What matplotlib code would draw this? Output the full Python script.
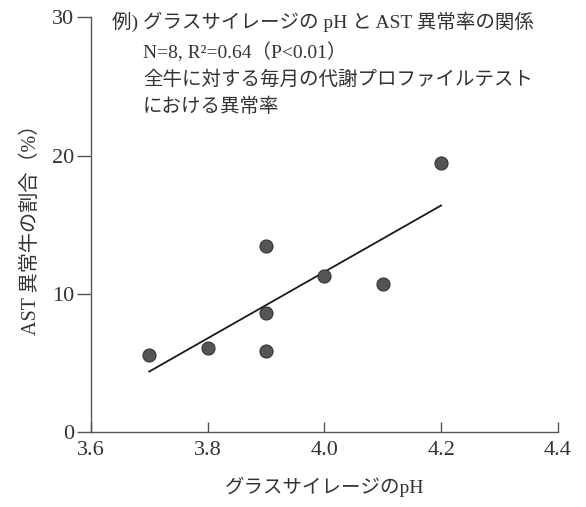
import matplotlib
matplotlib.use("Agg")
import matplotlib.pyplot as plt

plt.rcParams['font.family'] = ['Liberation Serif', 'Noto Sans CJK JP', 'DejaVu Sans']

# observed farms: silage pH vs share of AST-abnormal cows (%)
ph = [3.7, 3.8, 3.9, 3.9, 3.9, 4.0, 4.1, 4.2]
ast_pct = [5.6, 6.1, 13.5, 8.65, 5.9, 11.3, 10.7, 19.5]

# regression line endpoints
fit_x = [3.7, 4.2]
fit_y = [4.4, 16.4]

x_ticks = [3.6, 3.8, 4.0, 4.2, 4.4]
x_ticklabels = ["3.6", "3.8", "4.0", "4.2", "4.4"]
y_ticks = [0, 10, 20, 30]

note_head = "例) グラスサイレージの pH と AST 異常率の関係"
note_lines = ["N=8, R²=0.64（P<0.01）",
              "全牛に対する毎月の代謝プロファイルテスト",
              "における異常率"]

fig = plt.figure(figsize=(5.86, 5.07), dpi=100)
ax = fig.add_axes([0.155, 0.147, 0.797, 0.819])

ax.plot(fit_x, fit_y, color="#1a1a1a", lw=1.3, zorder=2)
ax.scatter(ph, ast_pct, s=88, color="#555555", edgecolors="#333333",
           linewidths=0.8, zorder=3)

ax.set_xlim(3.6, 4.4)
ax.set_ylim(0, 30)
ax.set_xticks(x_ticks)
ax.set_xticklabels(x_ticklabels)
ax.set_yticks(y_ticks)

for s in ("top", "right"):
    ax.spines[s].set_visible(False)
for s in ("left", "bottom"):
    ax.spines[s].set_color("#555555")
    ax.spines[s].set_linewidth(1.0)

ax.tick_params(axis="x", direction="in", length=7, width=1.0,
               colors="#555555", labelcolor="#333333", labelsize=16, pad=6)
ax.tick_params(axis="y", direction="out", length=10, width=1.0,
               colors="#555555", labelcolor="#333333", labelsize=16, pad=2)

ax.set_xlabel("グラスサイレージのpH", fontsize=14, color="#333333", labelpad=12)
ax.set_ylabel("AST 異常牛の割合（%）", fontsize=14.5, color="#333333", labelpad=8)

fig.text(112 / 586, 1 - 22 / 507, note_head, fontsize=14, color="#333333",
         va="center", ha="left")
for i, line in enumerate(note_lines):
    fig.text(143 / 586, 1 - (52 + 27.5 * i) / 507, line, fontsize=14,
             color="#333333", va="center", ha="left")

fig.savefig("out.png", dpi=100)
